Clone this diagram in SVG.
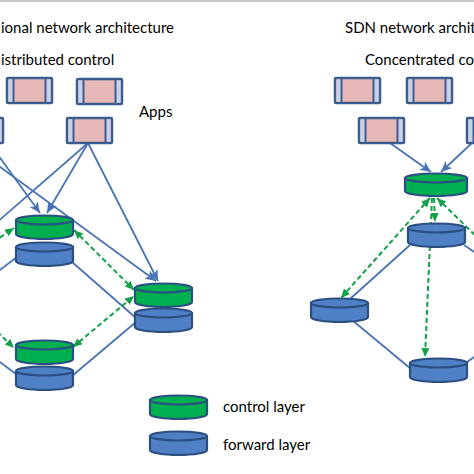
<svg xmlns="http://www.w3.org/2000/svg" width="474" height="474" viewBox="0 0 474 474">
<style>
.t{font-family:Lato,"Liberation Sans",sans-serif;font-size:15px;fill:#000}
.ln{stroke:#4a74b4;stroke-width:1.8;fill:none}
.gd{stroke:#13a04a;stroke-width:2;stroke-dasharray:5,3;fill:none}
.box{fill:#e6b9b8;stroke:#3b5d90;stroke-width:2.5}
.strip{fill:#c8d2ea}
.bar{stroke:#3b5d90;stroke-width:2}
.cg{fill:#00b050;stroke:#2c4f82;stroke-width:2.2}
.cb{fill:#4f7fc4;stroke:#2c4f82;stroke-width:2.2}
</style>
<defs>
<marker id="ab" markerUnits="userSpaceOnUse" markerWidth="12" markerHeight="12" refX="11" refY="5" orient="auto">
<path d="M0,0 L11,5 L0,10 L3,5 Z" fill="#4a74b4"/>
</marker>
<marker id="ag" markerUnits="userSpaceOnUse" markerWidth="10" markerHeight="10" refX="9" refY="4" orient="auto-start-reverse">
<path d="M0,0 L9,4 L0,8 Z" fill="#13a04a"/>
</marker>
<g id="app">
<rect class="box" x="0" y="0" width="45" height="25" rx="1"/>
<rect class="strip" x="1.5" y="1.5" width="4.5" height="22"/>
<rect class="strip" x="39" y="1.5" width="4.5" height="22"/>
<line class="bar" x1="6.5" y1="1" x2="6.5" y2="24"/>
<line class="bar" x1="38.5" y1="1" x2="38.5" y2="24"/>
</g>
<g id="cyl">
<path d="M0,5 L0,19 A28.5,5 0 0 0 57,19 L57,5 Z"/>
<ellipse cx="28.5" cy="5" rx="28.5" ry="4.5"/>
</g>
<g id="cylw">
<path d="M0,5 L0,18 A31,5 0 0 0 62,18 L62,5 Z"/>
<ellipse cx="31" cy="5" rx="31" ry="4.5"/>
</g>
</defs>
<rect x="0" y="0" width="474" height="2" fill="#c8c8c8"/>
<text class="t" x="1" y="33">ional network architecture</text>
<text class="t" x="1" y="65">istributed control</text>
<text class="t" x="139" y="117">Apps</text>
<text class="t" x="345" y="33">SDN network archit</text>
<text class="t" x="365" y="65">Concentrated co</text>
<text class="t" x="223" y="412">control layer</text>
<text class="t" x="223" y="450">forward layer</text>
<g id="connectors">
<line class="ln" x1="88" y1="143" x2="47" y2="213" marker-end="url(#ab)"/>
<line class="ln" x1="88" y1="143" x2="158" y2="281" marker-end="url(#ab)"/>
<line class="ln" x1="88" y1="143" x2="-20" y2="237"/>
<line class="ln" x1="-15" y1="137" x2="40" y2="213" marker-end="url(#ab)"/>
<line class="ln" x1="-30" y1="145" x2="156" y2="281" marker-end="url(#ab)"/>
<line class="ln" x1="-20" y1="285" x2="17" y2="257"/>
<line class="ln" x1="72" y1="262" x2="136" y2="318"/>
<line class="ln" x1="136" y1="322" x2="72" y2="376"/>
<line class="ln" x1="-20" y1="347" x2="16" y2="374"/>
<line class="gd" x1="-20" y1="251" x2="14" y2="228" marker-end="url(#ag)"/>
<line class="gd" x1="74" y1="230" x2="134" y2="290" marker-start="url(#ag)" marker-end="url(#ag)"/>
<line class="gd" x1="73" y1="347" x2="134" y2="296" marker-start="url(#ag)" marker-end="url(#ag)"/>
<line class="gd" x1="-20" y1="315" x2="14" y2="348" marker-end="url(#ag)"/>
<line class="ln" x1="390" y1="143" x2="431" y2="172" marker-end="url(#ab)"/>
<line class="ln" x1="472" y1="143" x2="441" y2="172" marker-end="url(#ab)"/>
<line class="ln" x1="410" y1="245" x2="350" y2="299"/>
<line class="ln" x1="464" y1="245" x2="480" y2="256"/>
<line class="ln" x1="352" y1="320" x2="411" y2="369"/>
<line class="ln" x1="467" y1="362" x2="480" y2="353"/>
<line class="gd" x1="434" y1="198" x2="435" y2="222" marker-end="url(#ag)"/>
<line class="gd" x1="430" y1="198" x2="341" y2="298" marker-start="url(#ag)" marker-end="url(#ag)"/>
<line class="gd" x1="432" y1="198" x2="425" y2="357" marker-end="url(#ag)"/>
<line class="gd" x1="437" y1="198" x2="485" y2="245" marker-start="url(#ag)"/>
</g>
<g id="app-a"><use href="#app" x="7" y="78"/></g>
<g id="app-b"><use href="#app" x="77" y="79"/></g>
<g id="app-c"><use href="#app" x="67" y="118"/></g>
<g id="app-d"><use href="#app" x="-42" y="118"/></g>
<g id="app-e"><use href="#app" x="335" y="78"/></g>
<g id="app-f"><use href="#app" x="407" y="78"/></g>
<g id="app-g"><use href="#app" x="359" y="118"/></g>
<g id="app-h"><use href="#app" x="467" y="118"/></g>
<g id="ctrl-l1" class="cg"><use href="#cyl" x="16" y="215"/></g>
<g id="fwd-l1" class="cb"><use href="#cyl" x="16" y="242"/></g>
<g id="ctrl-l2" class="cg"><use href="#cyl" x="135" y="283"/></g>
<g id="fwd-l2" class="cb"><use href="#cyl" x="135" y="308"/></g>
<g id="ctrl-l3" class="cg"><use href="#cyl" x="16" y="340"/></g>
<g id="fwd-l3" class="cb"><use href="#cyl" x="16" y="366"/></g>
<g id="legend-ctrl" class="cg"><use href="#cyl" x="150" y="395"/></g>
<g id="legend-fwd" class="cb"><use href="#cyl" x="150" y="431"/></g>
<g id="sdn-ctrl" class="cg"><use href="#cylw" x="405" y="173"/></g>
<g id="fwd-r1" class="cb"><use href="#cyl" x="408" y="223"/></g>
<g id="fwd-r2" class="cb"><use href="#cyl" x="311" y="298"/></g>
<g id="fwd-r3" class="cb"><use href="#cyl" x="410" y="358"/></g>
</svg>
